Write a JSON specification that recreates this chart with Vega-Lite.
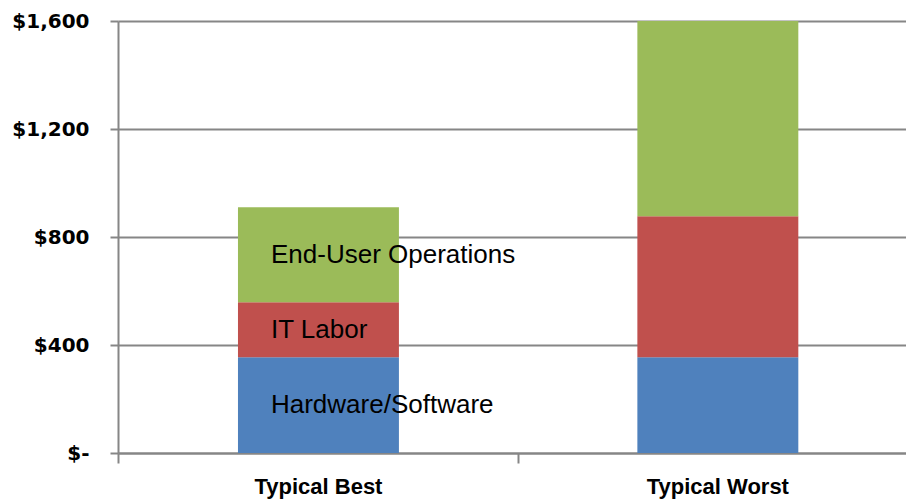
{
  "$schema": "https://vega.github.io/schema/vega-lite/v6.json",
  "autosize": {"type": "none"},
  "width": 788,
  "height": 432,
  "padding": {"left": 118, "top": 21, "right": 0, "bottom": 50},
  "background": "white",
  "config": {"view": {"stroke": null}},
  "data": {
    "values": [
      {"category": "Typical Best", "component": "Hardware/Software", "rank": 1, "value": 355},
      {"category": "Typical Best", "component": "IT Labor", "rank": 2, "value": 203},
      {"category": "Typical Best", "component": "End-User Operations", "rank": 3, "value": 352},
      {"category": "Typical Worst", "component": "Hardware/Software", "rank": 1, "value": 355},
      {"category": "Typical Worst", "component": "IT Labor", "rank": 2, "value": 522},
      {"category": "Typical Worst", "component": "End-User Operations", "rank": 3, "value": 723}
    ]
  },
  "resolve": {"axis": {"x": "independent"}},
  "layer": [
    {
      "mark": {"type": "bar", "stroke": null},
      "encoding": {
        "x": {
          "field": "category",
          "type": "nominal",
          "sort": ["Typical Best", "Typical Worst"],
          "scale": {"paddingInner": 0.597, "paddingOuter": 0.285, "align": 0.527},
          "axis": {
            "orient": "bottom",
            "title": null,
            "labelAngle": 0,
            "domainColor": "#868686",
            "domainWidth": 2,
            "ticks": false,
            "labelPadding": 23,
            "labelFont": "Liberation Sans",
            "labelFontWeight": "bold",
            "labelFontSize": 22,
            "labelColor": "#000000"
          }
        },
        "y": {
          "aggregate": "sum",
          "field": "value",
          "type": "quantitative",
          "stack": "zero",
          "scale": {"domain": [0, 1600], "nice": false},
          "axis": {
            "title": null,
            "values": [0, 400, 800, 1200, 1600],
            "labelExpr": "datum.value == 0 ? '$-' : '$' + format(datum.value, ',')",
            "grid": true,
            "gridColor": "#868686",
            "gridWidth": 2,
            "domainColor": "#868686",
            "domainWidth": 2,
            "tickColor": "#868686",
            "tickWidth": 2,
            "tickSize": 8,
            "labelPadding": 21,
            "labelFont": "DejaVu Sans",
            "labelFontWeight": "bold",
            "labelFontSize": 20,
            "labelColor": "#000000"
          }
        },
        "color": {
          "field": "component",
          "type": "nominal",
          "sort": ["Hardware/Software", "IT Labor", "End-User Operations"],
          "scale": {
            "domain": ["Hardware/Software", "IT Labor", "End-User Operations"],
            "range": ["#4F81BD", "#C0504D", "#9BBB59"]
          },
          "legend": null
        },
        "order": {"field": "rank", "type": "quantitative"}
      }
    },
    {
      "transform": [
        {"filter": "datum.category === 'Typical Best'"},
        {"stack": "value", "groupby": ["category"], "sort": [{"field": "rank", "order": "ascending"}], "as": ["v0", "v1"]},
        {"calculate": "(datum.v0 + datum.v1) / 2", "as": "mid"}
      ],
      "mark": {
        "type": "text",
        "align": "left",
        "baseline": "middle",
        "dx": 33,
        "font": "Liberation Sans",
        "fontSize": 26,
        "color": "#000000"
      },
      "encoding": {
        "x": {
          "field": "category",
          "type": "nominal",
          "bandPosition": 0,
          "axis": {
            "orient": "bottom",
            "title": null,
            "labels": false,
            "domain": false,
            "tickColor": "#868686",
            "tickWidth": 2,
            "tickSize": 10,
            "tickOffset": -200
          }
        },
        "y": {"field": "mid", "type": "quantitative"},
        "text": {"field": "component", "type": "nominal"}
      }
    }
  ]
}
